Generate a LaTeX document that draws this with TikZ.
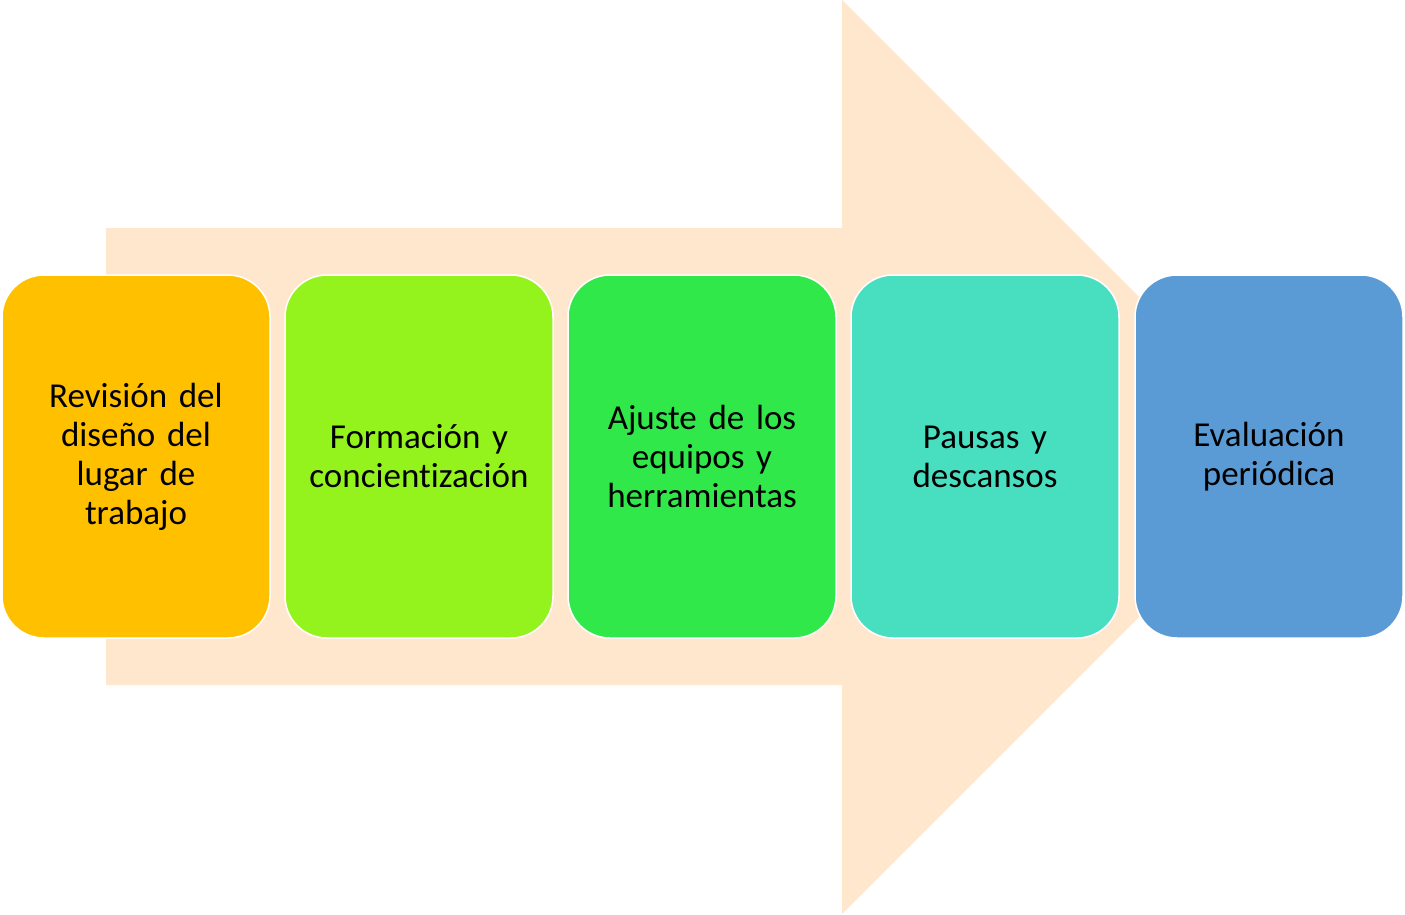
\documentclass[tikz,border=0pt]{standalone}
\usepackage{fontspec}
\setmainfont[Ligatures=NoCommon]{Carlito}
\definecolor{arrowc}{HTML}{FFE7CE}
\definecolor{c1}{HTML}{FFC000}
\definecolor{c2}{HTML}{94F31C}
\definecolor{c3}{HTML}{30E84A}
\definecolor{c4}{HTML}{48DEC0}
\definecolor{c5}{HTML}{5B9BD5}
\begin{document}
\begin{tikzpicture}[x=1pt,y=-1pt,
  stepbox/.style={draw=white,line width=1.5pt,rounded corners=42pt,minimum width=268pt,minimum height=363pt,
    align=center,text width=260pt,inner sep=0pt,font=\fontsize{35}{39}\selectfont,text=black}]
\useasboundingbox (0,0) rectangle (1405,914);
\fill[arrowc] (106,228) -- (842,228) -- (842,0) -- (1299,457) -- (842,914) -- (842,685) -- (106,685) -- cycle;
\node[stepbox,fill=c1] (s1) at (136,456.5) {Revisión del\\diseño del\\lugar de\\trabajo};
\node[stepbox,fill=c2] (s2) at (419,456.5) {Formación y\\concientización};
\node[stepbox,fill=c3] (s3) at (702,456.5) {Ajuste de los\\equipos y\\herramientas};
\node[stepbox,fill=c4] (s4) at (985,456.5) {Pausas y\\descansos};
\node[stepbox,fill=c5] (s5) at (1269,456.5) {Evaluación\\periódica};
\end{tikzpicture}
\end{document}
